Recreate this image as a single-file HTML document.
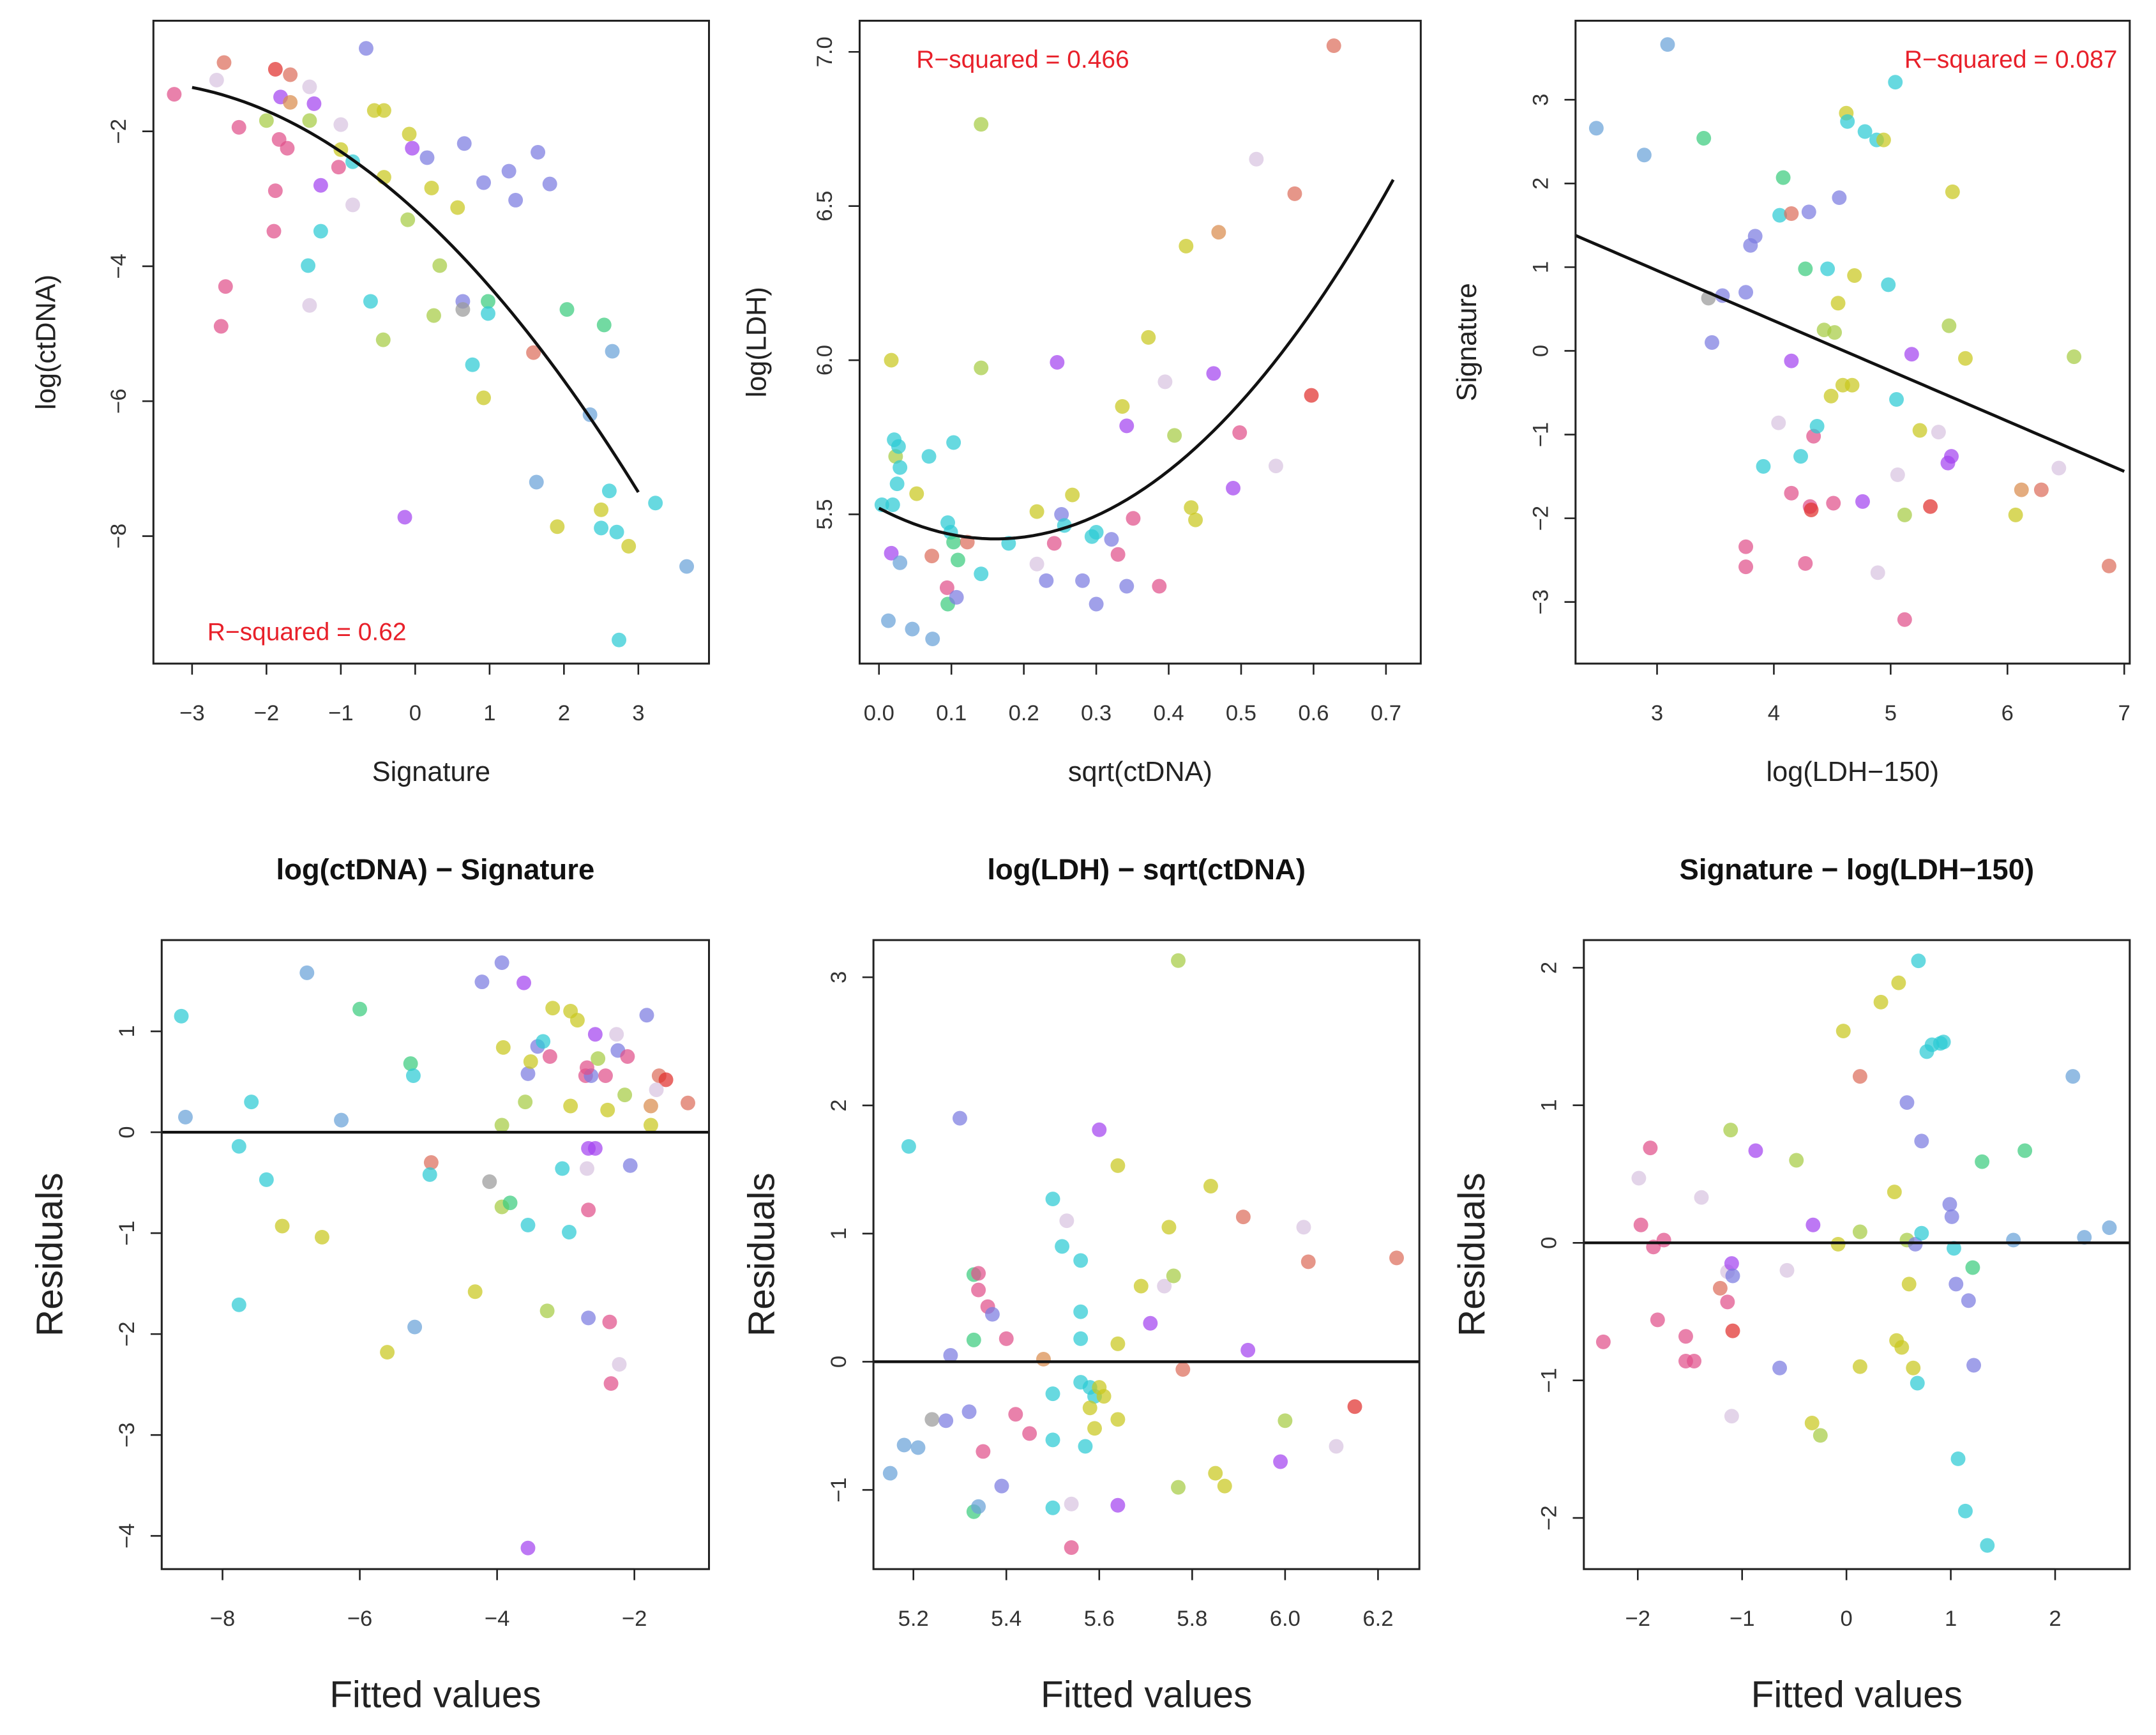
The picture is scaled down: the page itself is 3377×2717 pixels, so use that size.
<!DOCTYPE html>
<html><head><meta charset="utf-8"><style>
html,body{margin:0;padding:0;background:#fff;}
svg{display:block;}
text{font-family:"Liberation Sans",Arial,sans-serif;}
</style></head><body>
<svg id="fig" xmlns="http://www.w3.org/2000/svg" width="3377" height="2717" viewBox="0 0 1560 1255" preserveAspectRatio="none"></svg>
<script>
// ---------- Data ----------
const p1X=[-3.24,-2.67,-2.57,-2.37,-1.88,-1.68,-1.81,-1.68,-2.0,-1.83,-1.72,-1.42,-1.36,-1.42,-1.0,-1.0,-0.84,-1.03,-1.27,-1.88,-0.84,-1.9,-1.27,-0.66,-0.55,-0.42,-0.42,-0.08,-0.04,0.16,0.66,0.22,0.57,-0.1,0.33,0.92,1.26,1.35,1.65,1.81,-1.42,-2.55,-2.61,-1.44,-0.6,-0.43,0.25,0.64,0.64,0.98,0.98,0.77,0.92,1.59,2.04,2.54,2.65,2.35,1.63,-0.14,1.91,2.5,2.61,3.23,2.5,2.71,2.87,3.65,2.74];
const p1Y=[-1.45,-1.24,-0.98,-1.94,-1.08,-1.16,-1.49,-1.57,-1.84,-2.12,-2.25,-1.34,-1.59,-1.84,-1.9,-2.27,-2.45,-2.53,-2.8,-2.88,-3.09,-3.48,-3.48,-0.77,-1.69,-1.69,-2.68,-2.04,-2.25,-2.39,-2.18,-2.84,-3.13,-3.31,-3.99,-2.76,-2.59,-3.02,-2.31,-2.78,-4.58,-4.3,-4.89,-3.99,-4.52,-5.09,-4.73,-4.52,-4.64,-4.52,-4.7,-5.46,-5.95,-5.28,-4.64,-4.87,-5.26,-6.2,-7.2,-7.72,-7.86,-7.61,-7.33,-7.51,-7.88,-7.94,-8.15,-8.45,-9.54];
const p1C=["pk","lv","sa","pk","rd","sa","vi","or","yg","pk","pk","lv","vi","yg","lv","ye","cy","pk","vi","pk","lv","pk","cy","pu","ye","ye","ye","ye","vi","pu","pu","ye","ye","yg","yg","pu","pu","pu","pu","pu","lv","pk","pk","cy","cy","yg","yg","pu","gy","gr","cy","cy","ye","sa","gr","gr","bl","bl","bl","vi","ye","ye","cy","cy","cy","cy","ye","bl","cy"];
const p1Fit=[-3.17,-1.0,-0.131]; // quadratic coefficients a,b,c
const p1Range=[-3,3];

const p2X=[0.017,0.021,0.023,0.027,0.029,0.025,0.004,0.019,0.017,0.029,0.013,0.046,0.074,0.052,0.069,0.103,0.095,0.099,0.103,0.109,0.094,0.095,0.107,0.073,0.122,0.141,0.141,0.141,0.179,0.218,0.218,0.231,0.242,0.246,0.252,0.256,0.267,0.281,0.294,0.3,0.3,0.321,0.336,0.342,0.351,0.33,0.342,0.372,0.395,0.408,0.387,0.424,0.431,0.437,0.462,0.469,0.498,0.489,0.521,0.548,0.574,0.597,0.628];
const p2Y=[6.0,5.742,5.688,5.72,5.652,5.599,5.531,5.531,5.374,5.343,5.155,5.128,5.096,5.567,5.688,5.733,5.473,5.442,5.41,5.352,5.262,5.209,5.231,5.365,5.41,5.307,5.975,6.765,5.406,5.509,5.339,5.285,5.406,5.993,5.5,5.464,5.563,5.285,5.428,5.442,5.209,5.419,5.85,5.787,5.487,5.37,5.267,6.074,5.93,5.756,5.267,6.37,5.522,5.482,5.957,6.415,5.765,5.585,6.652,5.657,6.54,5.886,7.02];
const p2C=["ye","cy","yg","cy","cy","cy","cy","cy","vi","bl","bl","bl","bl","ye","cy","cy","cy","cy","gr","gr","pk","gr","pu","sa","sa","cy","yg","yg","cy","ye","lv","pu","pk","vi","pu","cy","ye","pu","cy","cy","pu","pu","ye","vi","pk","pk","pu","ye","lv","yg","pk","ye","ye","ye","vi","or","pk","vi","lv","lv","sa","rd","sa"];
const p2Fit=[5.52,-1.24,3.86];
const p2Range=[0,0.71];

const p3X=[2.48,2.89,3.09,3.4,3.44,3.56,3.47,3.76,3.84,3.8,3.91,4.08,4.05,4.15,4.27,4.3,4.15,4.04,4.15,4.23,4.34,4.37,4.31,4.32,4.27,3.76,3.76,4.46,4.43,4.52,4.49,4.59,4.67,4.55,4.69,4.56,4.62,4.63,4.78,4.88,4.94,5.04,4.51,4.76,4.98,5.05,5.06,5.12,5.18,4.89,5.12,5.25,5.34,5.41,5.49,5.52,5.5,5.53,5.64,6.07,6.12,6.29,6.44,6.57,6.87];
const p3Y=[2.66,2.34,3.66,2.54,0.63,0.66,0.1,0.7,1.37,1.26,-1.38,2.07,1.62,1.64,0.98,1.66,-0.12,-0.86,-1.7,-1.26,-1.02,-0.9,-1.86,-1.9,-2.54,-2.34,-2.58,0.98,0.25,0.22,-0.54,-0.41,-0.41,0.57,0.9,1.83,2.84,2.74,2.62,2.52,2.52,3.21,-1.82,-1.8,0.79,-0.58,-1.48,-1.96,-0.04,-2.65,-3.21,-0.95,-1.86,-0.97,-1.34,-1.26,0.3,1.9,-0.09,-1.96,-1.66,-1.66,-1.4,-0.07,-2.57];
const p3C=["bl","bl","bl","gr","gy","pu","pu","pu","pu","pu","cy","gr","cy","sa","gr","pu","vi","lv","pk","cy","pk","cy","pk","rd","pk","pk","pk","cy","yg","yg","ye","ye","ye","ye","ye","pu","ye","cy","cy","cy","ye","cy","pk","vi","cy","cy","lv","yg","vi","lv","pk","ye","rd","lv","vi","vi","yg","ye","ye","ye","or","sa","lv","yg","sa"];
const p3Fit=[2.76,-0.6,0];
const p3Range=[2.302,7.0];

const b1X=[-8.6,-8.54,-6.77,-7.58,-7.76,-7.36,-7.76,-7.13,-6.55,-6.0,-6.27,-5.26,-5.22,-4.96,-4.98,-5.2,-5.6,-4.32,-4.22,-3.93,-3.61,-3.91,-3.93,-4.11,-3.93,-3.81,-3.59,-3.55,-3.51,-3.41,-3.33,-3.23,-3.55,-3.27,-3.55,-3.19,-2.93,-2.83,-2.93,-3.05,-2.95,-2.71,-2.63,-2.69,-2.57,-2.53,-2.39,-2.42,-2.26,-2.24,-2.1,-2.14,-2.67,-2.57,-2.69,-2.67,-2.67,-2.36,-2.22,-2.34,-2.06,-1.82,-1.76,-1.76,-1.64,-1.54,-1.68,-1.22];
const b1Y=[1.15,0.15,1.58,0.3,-0.14,-0.47,-1.71,-0.93,-1.04,1.22,0.12,0.68,0.56,-0.3,-0.42,-1.93,-2.18,-1.58,1.49,1.68,1.48,0.84,0.07,-0.49,-0.74,-0.7,0.3,0.58,0.7,0.85,0.9,0.75,-0.92,-1.77,-4.12,1.23,1.2,1.11,0.26,-0.36,-0.99,0.56,0.56,0.64,0.97,0.73,0.22,0.56,0.97,0.81,0.75,0.37,-0.16,-0.16,-0.36,-0.77,-1.84,-1.88,-2.3,-2.49,-0.33,1.16,0.26,0.07,0.56,0.52,0.42,0.29];
const b1C=["cy","bl","bl","cy","cy","cy","cy","ye","ye","gr","bl","gr","cy","sa","cy","bl","ye","ye","pu","pu","vi","ye","yg","gy","yg","gr","yg","pu","ye","pu","cy","pk","cy","yg","vi","ye","ye","ye","ye","cy","cy","pk","pu","pk","vi","yg","ye","pk","lv","pu","pk","yg","vi","vi","lv","pk","pu","pk","lv","pk","pu","pu","or","ye","sa","rd","lv","sa"];

const b2X=[5.15,5.18,5.21,5.19,5.3,5.24,5.27,5.28,5.32,5.33,5.34,5.34,5.33,5.33,5.34,5.35,5.36,5.37,5.4,5.39,5.42,5.45,5.48,5.5,5.52,5.53,5.56,5.5,5.5,5.5,5.54,5.54,5.56,5.56,5.56,5.58,5.59,5.57,5.6,5.61,5.58,5.59,5.64,5.64,5.64,5.6,5.64,5.69,5.71,5.74,5.76,5.75,5.77,5.78,5.77,5.84,5.85,5.87,5.91,5.92,6.0,5.99,6.04,6.05,6.11,6.15,6.24];
const b2Y=[-0.87,-0.65,-0.67,1.68,1.9,-0.45,-0.46,0.05,-0.39,0.68,0.69,0.56,0.17,-1.17,-1.13,-0.7,0.43,0.37,0.18,-0.97,-0.41,-0.56,0.02,1.27,0.9,1.1,0.79,-0.25,-0.61,-1.14,-1.11,-1.45,0.18,0.39,-0.16,-0.2,-0.27,-0.66,-0.2,-0.27,-0.36,-0.52,-0.45,0.14,-1.12,1.81,1.53,0.59,0.3,0.59,0.67,1.05,3.13,-0.06,-0.98,1.37,-0.87,-0.97,1.13,0.09,-0.46,-0.78,1.05,0.78,-0.66,-0.35,0.81];
const b2C=["bl","bl","bl","cy","pu","gy","pu","pu","pu","gr","pk","pk","gr","gr","bl","pk","pk","pu","pk","pu","pk","pk","or","cy","cy","lv","cy","cy","cy","cy","lv","pk","cy","cy","cy","cy","cy","cy","ye","ye","ye","ye","ye","ye","vi","vi","ye","ye","vi","lv","yg","ye","yg","sa","yg","ye","ye","ye","sa","vi","yg","vi","lv","sa","lv","rd","sa"];

const b3X=[-2.33,-1.99,-1.97,-1.88,-1.85,-1.81,-1.75,-1.54,-1.54,-1.46,-1.39,-1.21,-1.14,-1.14,-1.1,-1.09,-1.09,-1.1,-1.11,-0.87,-0.64,-0.57,-0.48,-0.32,-0.33,-0.25,-0.03,-0.08,0.13,0.13,0.13,0.33,0.46,0.5,0.48,0.53,0.58,0.6,0.64,0.58,0.66,0.69,0.72,0.68,0.72,0.77,0.82,0.9,0.93,0.99,1.01,1.03,1.05,1.17,1.21,1.22,1.07,1.14,1.35,1.3,1.6,1.71,2.17,2.28,2.52];
const b3Y=[-0.72,0.47,0.13,0.69,-0.03,-0.56,0.02,-0.68,-0.86,-0.86,0.33,-0.33,-0.43,-0.21,-0.15,-0.24,-0.64,-1.26,0.82,0.67,-0.91,-0.2,0.6,0.13,-1.31,-1.4,1.54,-0.01,0.08,1.21,-0.9,1.75,0.37,1.89,-0.71,-0.76,0.02,-0.3,-0.91,1.02,-0.01,2.05,0.07,-1.02,0.74,1.39,1.44,1.45,1.46,0.28,0.19,-0.04,-0.3,-0.42,-0.18,-0.89,-1.57,-1.95,-2.2,0.59,0.02,0.67,1.21,0.04,0.11];
const b3C=["pk","lv","pk","pk","pk","pk","pk","pk","pk","pk","lv","sa","pk","lv","vi","pu","rd","lv","yg","vi","pu","lv","yg","vi","ye","yg","ye","ye","yg","sa","ye","ye","ye","ye","ye","ye","yg","ye","ye","pu","pu","cy","cy","cy","pu","cy","cy","cy","cy","pu","pu","cy","pu","pu","gr","pu","cy","cy","cy","gr","bl","gr","bl","bl","bl"];

const p1XTicks=[-3,-2,-1,0,1,2,3], p1YTicks=[-2,-4,-6,-8];
const p2XTicks=[0,0.1,0.2,0.3,0.4,0.5,0.6,0.7], p2YTicks=[5.5,6.0,6.5,7.0];
const p3XTicks=[3,4,5,6,7], p3YTicks=[-3,-2,-1,0,1,2,3];
const b1XTicks=[-8,-6,-4,-2], b1YTicks=[-4,-3,-2,-1,0,1];
const b2XTicks=[5.2,5.4,5.6,5.8,6.0,6.2], b2YTicks=[-1,0,1,2,3];
const b3XTicks=[-2,-1,0,1,2], b3YTicks=[-2,-1,0,1,2];

const PAL={pk:"#e0508a",rd:"#e0302e",sa:"#dc6e5c",or:"#d98c4e",ye:"#c9c81e",yg:"#a6cc44",gr:"#3ccc7e",cy:"#2ccad4",bl:"#6aa2d8",pu:"#7c7ce0",vi:"#a444f0",lv:"#d8c4e0",gy:"#9a9a9a"};

// ---------- Drawing ----------
const NS="http://www.w3.org/2000/svg";
const svg=document.getElementById('fig');
function mk(tag,attrs,parent){const e=document.createElementNS(NS,tag);for(const k in attrs)e.setAttribute(k,attrs[k]);(parent||svg).appendChild(e);return e;}
function lin(d0,d1,r0,r1){return v=>r0+(v-d0)/(d1-d0)*(r1-r0);}
function fmt(v,dec){return (v<0?"\u2212":"")+Math.abs(v).toFixed(dec);}

function panel(o){
  const g=mk('g',{});
  
  
  const sx=lin(o.xd[0],o.xd[1],o.box[0],o.box[2]);
  const sy=lin(o.yd[0],o.yd[1],o.box[3],o.box[1]);
  // points
  const pg=mk('g',{},g);
  
  
  for(let i=0;i<o.x.length;i++){
    const c=mk('circle',{cx:sx(o.x[i]),cy:sy(o.y[i]),r:5.3,fill:PAL[o.c[i]]||"#888","fill-opacity":0.72},pg);
    
    
  }
  // fit / zero line
  if(o.fit){
    let d="";const n=60;
    for(let k=0;k<=n;k++){const xv=o.fr[0]+(o.fr[1]-o.fr[0])*k/n;const yv=o.fit[0]+o.fit[1]*xv+o.fit[2]*xv*xv;d+=(k?"L":"M")+sx(xv).toFixed(2)+","+sy(yv).toFixed(2);}
    const p=mk('path',{d:d,fill:"none",stroke:"#111","stroke-width":2.2},g);
    
    
  }
  if(o.zero){
    const l=mk('line',{x1:o.box[0],x2:o.box[2],y1:sy(0),y2:sy(0),stroke:"#111","stroke-width":2},g);
    
    
  }
  const r=mk('rect',{x:o.box[0],y:o.box[1],width:o.box[2]-o.box[0],height:o.box[3]-o.box[1],fill:"none",stroke:"#222","stroke-width":1.4},g);
  
  
  // x ticks
  const xa=mk('g',{},g);
  
  
  mk('line',{x1:sx(o.xt[0]),x2:sx(o.xt[o.xt.length-1]),y1:o.box[3],y2:o.box[3],stroke:"#222","stroke-width":1.2},xa);
  o.xt.forEach(v=>{
    mk('line',{x1:sx(v),x2:sx(v),y1:o.box[3],y2:o.box[3]+8,stroke:"#222","stroke-width":1.2},xa);
    const t=mk('text',{x:sx(v),y:o.box[3]+41,"text-anchor":"middle","font-size":16,fill:"#333"},xa);
    t.textContent=fmt(v,o.xdec);
    
    
  });
  // y ticks
  const ya=mk('g',{},g);
  
  
  const yts=o.yt.slice().sort((a,b)=>a-b);
  mk('line',{x1:o.box[0],x2:o.box[0],y1:sy(yts[0]),y2:sy(yts[yts.length-1]),stroke:"#222","stroke-width":1.2},ya);
  o.yt.forEach(v=>{
    mk('line',{x1:o.box[0]-8,x2:o.box[0],y1:sy(v),y2:sy(v),stroke:"#222","stroke-width":1.2},ya);
    const tx=o.box[0]-20, ty=sy(v);
    const t=mk('text',{x:tx,y:ty,"text-anchor":"middle","font-size":16,fill:"#333",transform:`rotate(-90 ${tx} ${ty})`},ya);
    t.textContent=fmt(v,o.ydec);
    
    
  });
  // titles
  const cx=(o.box[0]+o.box[2])/2;
  const xt=mk('text',{x:cx,y:o.xlabY,"text-anchor":"middle","font-size":o.labSize,fill:"#222"},g);
  xt.textContent=o.xlab;
  
  
  const yty=(o.box[1]+o.box[3])/2;
  const yt=mk('text',{x:o.ylabX,y:yty,"text-anchor":"middle","font-size":o.labSize,fill:"#222",transform:`rotate(-90 ${o.ylabX} ${yty})`},g);
  yt.textContent=o.ylab;
  
  
  if(o.title){
    const tt=mk('text',{x:cx,y:636,"text-anchor":"middle","font-size":21,"font-weight":"bold",fill:"#111"},g);
    tt.textContent=o.title;
    
    
  }
  if(o.rsq){
    const rt=mk('text',{x:o.rsq[0],y:o.rsq[1],"text-anchor":o.rsq[2],"font-size":18,fill:"#e8202a"},g);
    rt.textContent=o.rsq[3];
    
    
  }
}

panel({name:'panel-ctdna-vs-signature',box:[111,15,513,480],xd:[-3.52,3.95],yd:[-9.89,-0.36],x:p1X,y:p1Y,c:p1C,fit:p1Fit,fr:p1Range,xt:p1XTicks,yt:p1YTicks,xdec:0,ydec:0,xlab:'Signature',ylab:'log(ctDNA)',xlabY:565,ylabX:40,labSize:20,rsq:[150,463,'start','R\u2212squared = 0.62']});
panel({name:'panel-ldh-vs-ctdna',box:[622,15,1028,480],xd:[-0.0267,0.748],yd:[5.016,7.101],x:p2X,y:p2Y,c:p2C,fit:p2Fit,fr:p2Range,xt:p2XTicks,yt:p2YTicks,xdec:1,ydec:1,xlab:'sqrt(ctDNA)',ylab:'log(LDH)',xlabY:565,ylabX:554,labSize:20,rsq:[663,49,'start','R\u2212squared = 0.466']});
panel({name:'panel-signature-vs-ldh',box:[1140,15,1541,480],xd:[2.302,7.047],yd:[-3.736,3.944],x:p3X,y:p3Y,c:p3C,fit:p3Fit,fr:p3Range,xt:p3XTicks,yt:p3YTicks,xdec:0,ydec:0,xlab:'log(LDH\u2212150)',ylab:'Signature',xlabY:565,ylabX:1068,labSize:20,rsq:[1532,49,'end','R\u2212squared = 0.087']});
panel({name:'residuals-ctdna-signature',box:[117,680,513,1135],xd:[-8.886,-0.913],yd:[-4.329,1.904],x:b1X,y:b1Y,c:b1C,zero:true,xt:b1XTicks,yt:b1YTicks,xdec:0,ydec:0,xlab:'Fitted values',ylab:'Residuals',xlabY:1235,ylabX:45,labSize:27,title:'log(ctDNA) \u2212 Signature'});
panel({name:'residuals-ldh-ctdna',box:[632,680,1027,1135],xd:[5.114,6.289],yd:[-1.618,3.29],x:b2X,y:b2Y,c:b2C,zero:true,xt:b2XTicks,yt:b2YTicks,xdec:1,ydec:0,xlab:'Fitted values',ylab:'Residuals',xlabY:1235,ylabX:560,labSize:27,title:'log(LDH) \u2212 sqrt(ctDNA)'});
panel({name:'residuals-signature-ldh',box:[1146,680,1541,1135],xd:[-2.517,2.715],yd:[-2.372,2.201],x:b3X,y:b3Y,c:b3C,zero:true,xt:b3XTicks,yt:b3YTicks,xdec:0,ydec:0,xlab:'Fitted values',ylab:'Residuals',xlabY:1235,ylabX:1074,labSize:27,title:'Signature \u2212 log(LDH\u2212150)'});
</script>
</body></html>
